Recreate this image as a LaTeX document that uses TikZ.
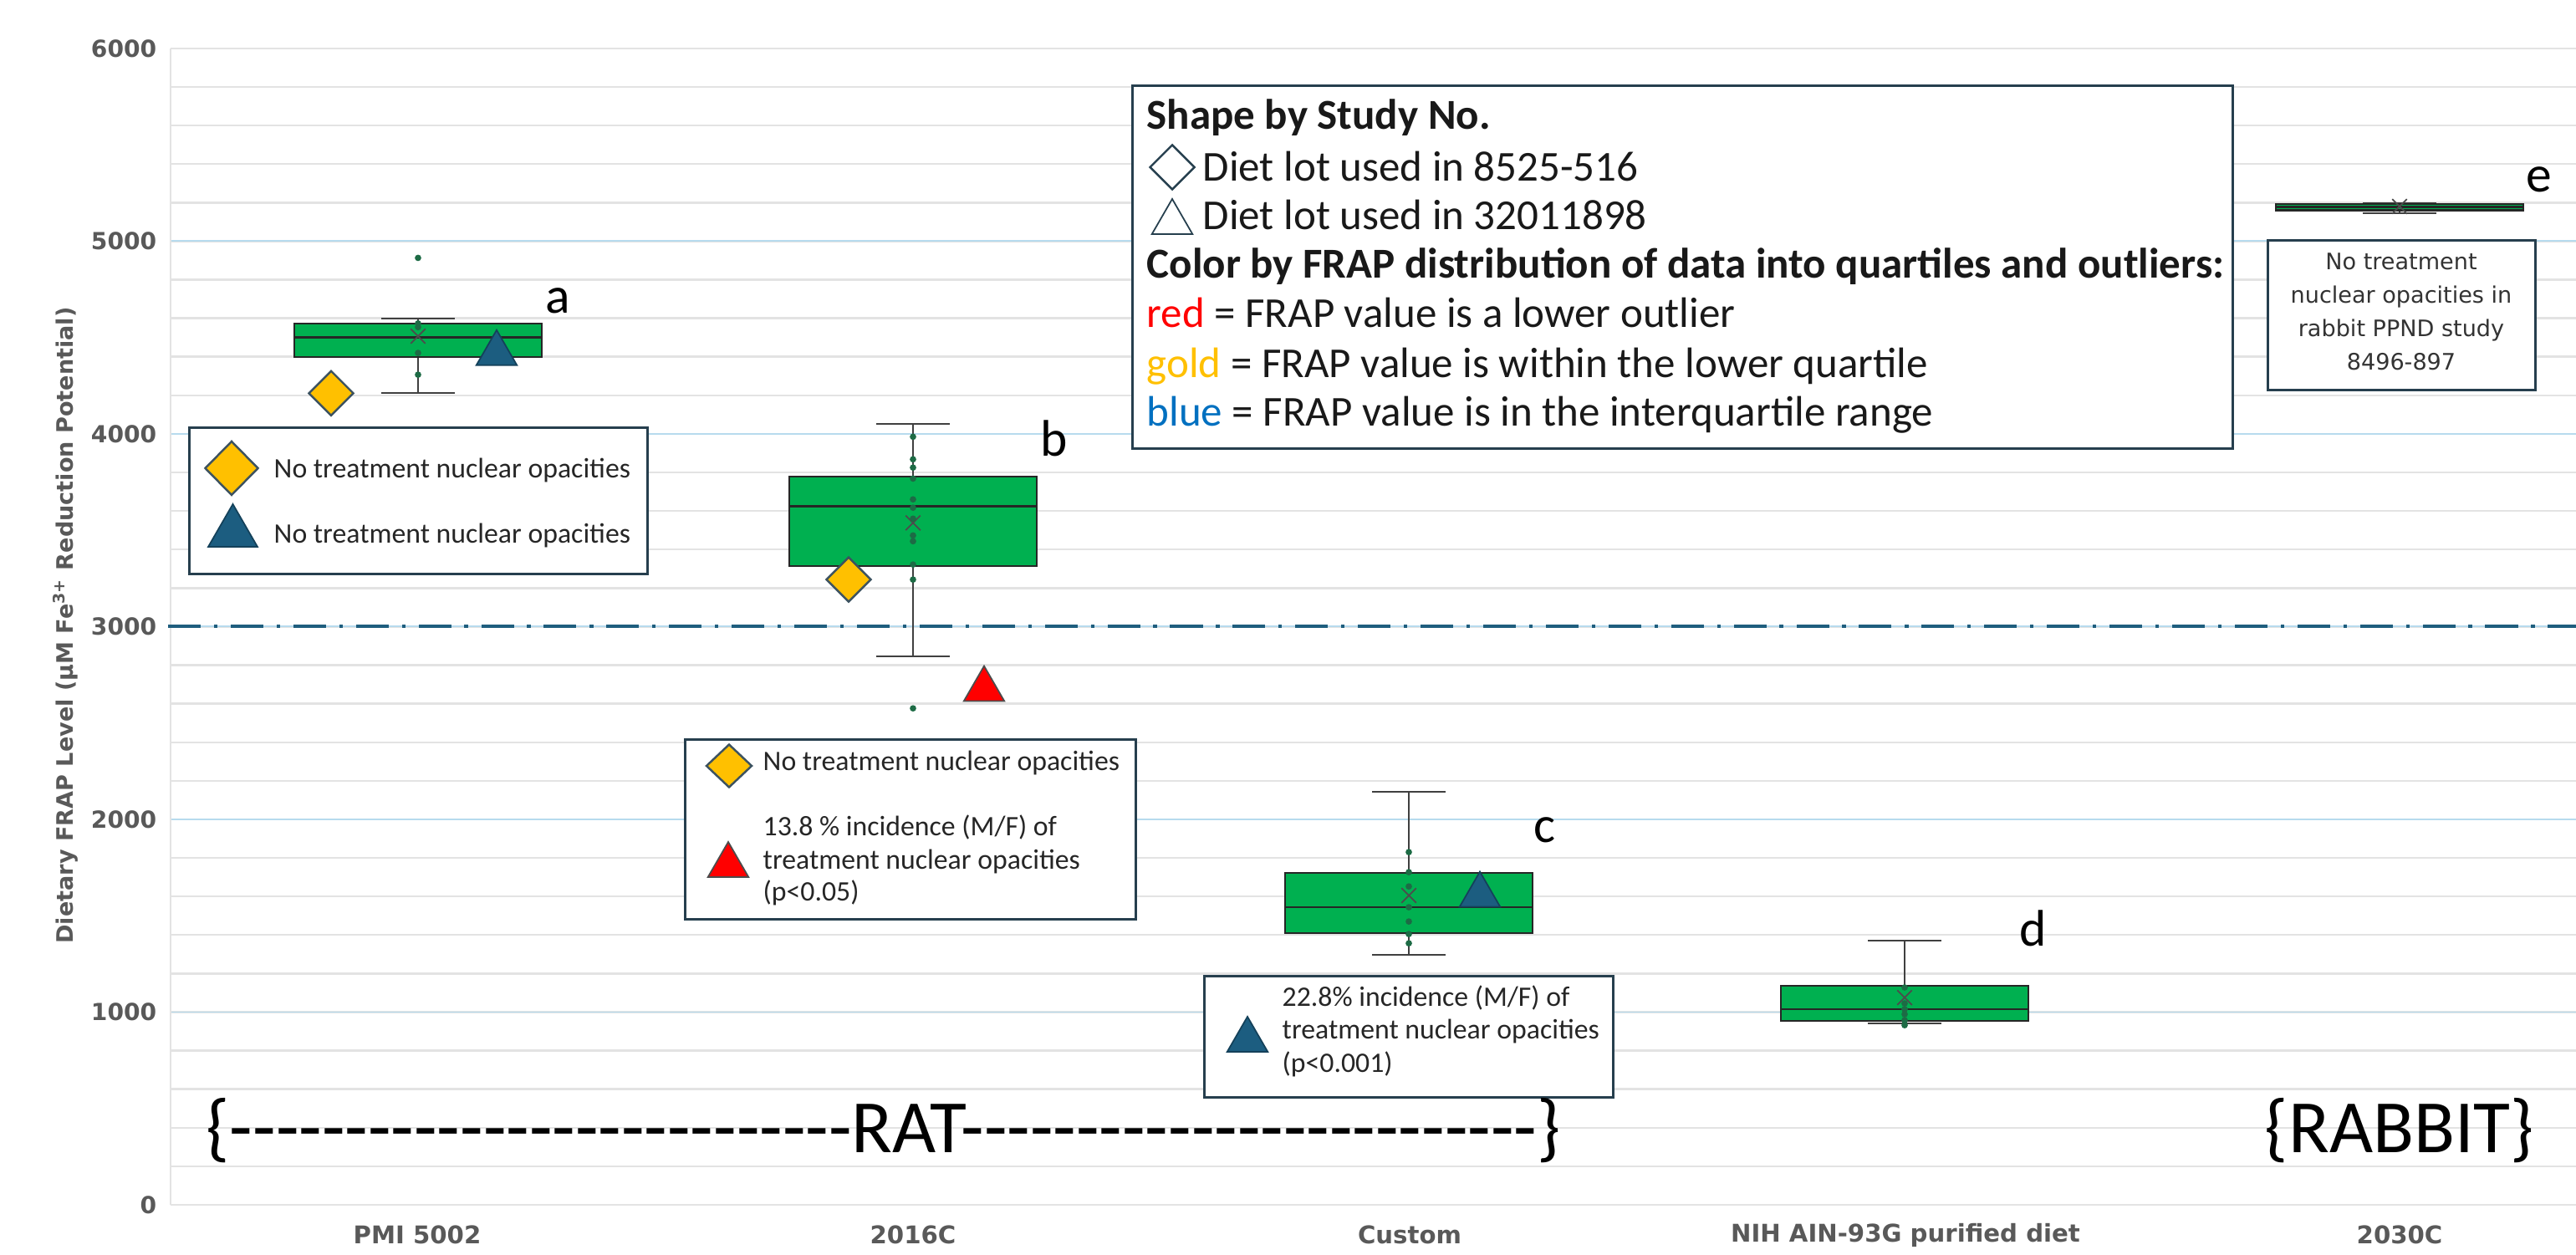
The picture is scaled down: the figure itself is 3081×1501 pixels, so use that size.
\documentclass[tikz,border=0pt]{standalone}
\usepackage{fontspec}
\setmainfont{Carlito}
\newfontfamily\verdfont{DejaVu Sans}
\usetikzlibrary{shapes.geometric,shapes.misc}

\definecolor{boxgreen}{HTML}{00B050}
\definecolor{dotgreen}{HTML}{1D6B45}
\definecolor{gold}{HTML}{FFC000}
\definecolor{steelblue}{HTML}{1C5D80}
\definecolor{legblue}{HTML}{0070C0}
\definecolor{legframe}{HTML}{263F4E}
\definecolor{ticktext}{HTML}{595959}
\definecolor{gridgrey}{HTML}{E3E3E3}
\definecolor{gridblue}{HTML}{B7DBEE}
\definecolor{limitline}{HTML}{1F5E7E}

\tikzset{
  gridminor/.style={draw=gridgrey, line width=0.7pt},
  gridmajor/.style={draw=gridblue, line width=0.55pt},
  ticklabel/.style={anchor=east, inner sep=0pt, text=ticktext, font=\verdfont\bfseries\fontsize{8}{9}\selectfont},
  catlabel/.style={inner sep=0pt, text=ticktext, font=\verdfont\bfseries\fontsize{8.3}{10}\selectfont},
  boxbody/.style={draw=black!85, line width=0.6pt, fill=boxgreen},
  medline/.style={draw=black!85, line width=0.8pt},
  whisker/.style={draw=black!75, line width=0.6pt},
  ptdot/.style={fill=dotgreen},
  meanmark/.style={cross out, draw=black!70, line width=0.5pt, minimum size=4.5pt, inner sep=0pt},
  golddiamond/.style={diamond, aspect=1, fill=gold, draw=legframe!90, line width=0.7pt, inner sep=0pt, minimum width=0.54cm, minimum height=0.54cm},
  bluetri/.style={regular polygon, regular polygon sides=3, fill=steelblue, draw=steelblue!70!black, line width=0.5pt, inner sep=0pt, minimum size=0.56cm},
  redtri/.style={bluetri, fill=red, draw=black!70},
  opendiamond/.style={golddiamond, fill=white, draw=legframe},
  opentri/.style={bluetri, fill=white, draw=legframe},
  legbox/.style={draw=legframe, line width=0.85pt, fill=white, inner sep=0pt},
  legtext/.style={anchor=base west, inner sep=0pt, text=black!90, font=\fontsize{14.5}{17}\selectfont},
  legbold/.style={legtext, font=\bfseries\fontsize{14.5}{17}\selectfont},
  notetext/.style={anchor=base west, inner sep=0pt, text=black!85, font=\fontsize{9.6}{11}\selectfont},
  grouplabel/.style={inner sep=0pt, font=\fontsize{25.6}{30}\selectfont},
  boxletter/.style={inner sep=0pt, font=\fontsize{17.5}{20}\selectfont},
  limit/.style={draw=limitline, line width=1.15pt, dash pattern=on 11.1pt off 4.5pt on 1.2pt off 4.5pt},
}

% #1 name, #2 x, #3 low whisker, #4 q1, #5 median, #6 q3, #7 high whisker, #8 mean
\newcommand{\frapbox}[8]{%
  \draw[whisker] (#2,#3) -- (#2,#7);
  \draw[whisker] (#2-44,#3) -- (#2+44,#3) (#2-44,#7) -- (#2+44,#7);
  \draw[boxbody] (#2-148,#4) rectangle (#2+148,#6);
  \draw[medline] (#2-148,#5) -- (#2+148,#5);
  \node[meanmark] (#1mean) at (#2,#8) {};
}
\newcommand{\hyphens}[1]{\foreach \n in {1,...,#1}{-\kern0pt}}

\begin{document}
\begin{tikzpicture}[x=0.01cm, y=-0.01cm]
\useasboundingbox (0,0) rectangle (3081,1501);

\begin{scope}[shift={(0,1441)}, y=0.002306cm]
  \foreach \v in {0,200,...,6000}
    \draw[gridminor] (204,\v) -- (3081,\v);
  \foreach \v in {1000,2000,...,5000}
    \draw[gridmajor] (204,\v) -- (3081,\v);
  \draw[gridminor] (204,0) -- (204,6000);
  \foreach \v in {0,1000,...,6000}
    \node[ticklabel] at (188,\v) {\v};

  \draw[limit] (201,3000) -- (3081,3000);

  \frapbox{A}{500}{4211}{4397}{4501}{4571}{4597}{4507}
  \foreach \v in {4913,4573,4554,4420,4307}
    \fill[ptdot] (500,\v) circle (1.1pt);
  \frapbox{B}{1092}{2845}{3313}{3625}{3777}{4050}{3538}
  \foreach \v in {2576,3985,3868,3825,3768,3660,3617,3560,3473,3443,3322,3244}
    \fill[ptdot] (1092,\v) circle (1.1pt);
  \frapbox{C}{1685}{1297}{1409}{1544}{1722}{2142}{1605}
  \foreach \v in {1830,1726,1652,1544,1470,1405,1357}
    \fill[ptdot] (1685,\v) circle (1.1pt);
  \frapbox{D}{2278}{941}{954}{1015}{1136}{1370}{1075}
  \foreach \v in {1128,1045,1015,989,958,932}
    \fill[ptdot] (2278,\v) circle (1.1pt);
  \frapbox{E}{2870}{5143}{5160}{5178}{5191}{5195}{5180}

  \node[golddiamond] (diaA) at (396,4211) {};
  \node[bluetri] (triA) at (594,4417) {};
  \node[golddiamond] (diaB) at (1015,3244) {};
  \node[redtri] (triB) at (1177,2674) {};
  \node[bluetri] (triC) at (1770,1607) {};
\end{scope}

\node[rotate=90, inner sep=0pt, text=ticktext, font=\verdfont\bfseries\fontsize{7.7}{9}\selectfont] (ytitle) at (78,748)
  {Dietary FRAP Level (µM Fe\textsuperscript{3+} Reduction Potential)};

\node[catlabel] (catA) at (499,1477) {PMI 5002};
\node[catlabel] (catB) at (1092,1477) {2016C};
\node[catlabel] (catC) at (1686,1477) {Custom};
\node[catlabel] (catD) at (2279,1477) {NIH AIN-93G purified diet};
\node[catlabel] (catE) at (2870,1477) {2030C};

\node[boxletter] (letA) at (667,360) {a};
\node[boxletter] (letB) at (1261,524) {b};
\node[boxletter] (letC) at (1847,993) {c};
\node[boxletter] (letD) at (2432,1110) {d};
\node[boxletter] (letE) at (3037,215) {e};

\node[legbox, minimum width=13.15cm, minimum height=4.33cm] (keyMain) at (2012.5,319.5) {};
\node[legbold] (keyShape) at (1371,155) {Shape by Study No.};
\node[opendiamond] (keyDia) at (1402,200) {};
\node[legtext] (keyDiaTxt) at (1438,217) {Diet lot used in 8525-516};
\node[opentri] (keyTri) at (1402,266) {};
\node[legtext] (keyTriTxt) at (1438,275) {Diet lot used in 32011898};
\node[legbold] (keyColor) at (1371,333) {Color by FRAP distribution of data into quartiles and outliers:};
\node[legtext] (keyRed) at (1371,392) {\textcolor{red}{red} = FRAP value is a lower outlier};
\node[legtext] (keyGold) at (1371,452) {\textcolor{gold}{gold} = FRAP value is within the lower quartile};
\node[legtext] (keyBlue) at (1371,510) {\textcolor{legblue}{blue} = FRAP value is in the interquartile range};

\node[legbox, minimum width=5.47cm, minimum height=1.74cm] (noteA) at (500.5,599) {};
\node[golddiamond, minimum width=0.64cm, minimum height=0.65cm] (noteAdia) at (277,560) {};
\node[bluetri, minimum size=0.68cm] (noteAtri) at (278.5,637) {};
\node[notetext] (noteAl1) at (327,572) {No treatment nuclear opacities};
\node[notetext] (noteAl2) at (327,650) {No treatment nuclear opacities};

\node[legbox, minimum width=5.38cm, minimum height=2.14cm] (noteB) at (1089,992) {};
\node[golddiamond, minimum width=0.55cm, minimum height=0.52cm] (noteBdia) at (872,916) {};
\node[redtri] (noteBtri) at (871,1035) {};
\node[notetext] (noteBl1) at (912,922) {No treatment nuclear opacities};
\node[notetext] (noteBl2) at (912,1000) {13.8 \% incidence (M/F) of};
\node[notetext] (noteBl3) at (912,1040) {treatment nuclear opacities};
\node[notetext] (noteBl4) at (912,1078) {(p<0.05)};

\node[legbox, minimum width=4.88cm, minimum height=1.44cm] (noteC) at (1685,1240) {};
\node[bluetri] (noteCtri) at (1492,1244) {};
\node[notetext] (noteCl1) at (1533,1203) {22.8\% incidence (M/F) of};
\node[notetext] (noteCl2) at (1533,1242) {treatment nuclear opacities};
\node[notetext] (noteCl3) at (1533,1282) {(p<0.001)};

\node[legbox, minimum width=3.19cm, minimum height=1.78cm] (noteE) at (2872.5,377) {};
\node[align=center, inner sep=0pt, text=black!80, font=\verdfont\fontsize{7.7}{11.4}\selectfont] (noteEtxt) at (2872,373)
  {No treatment\\nuclear opacities in\\rabbit PPND study\\8496-897};

\node[grouplabel, anchor=west] (rat) at (246,1352) {\{\hyphens{27}RAT\hyphens{25}\}};
\node[grouplabel] (rabbit) at (2870,1352) {\{RABBIT\}};
\end{tikzpicture}
\end{document}
